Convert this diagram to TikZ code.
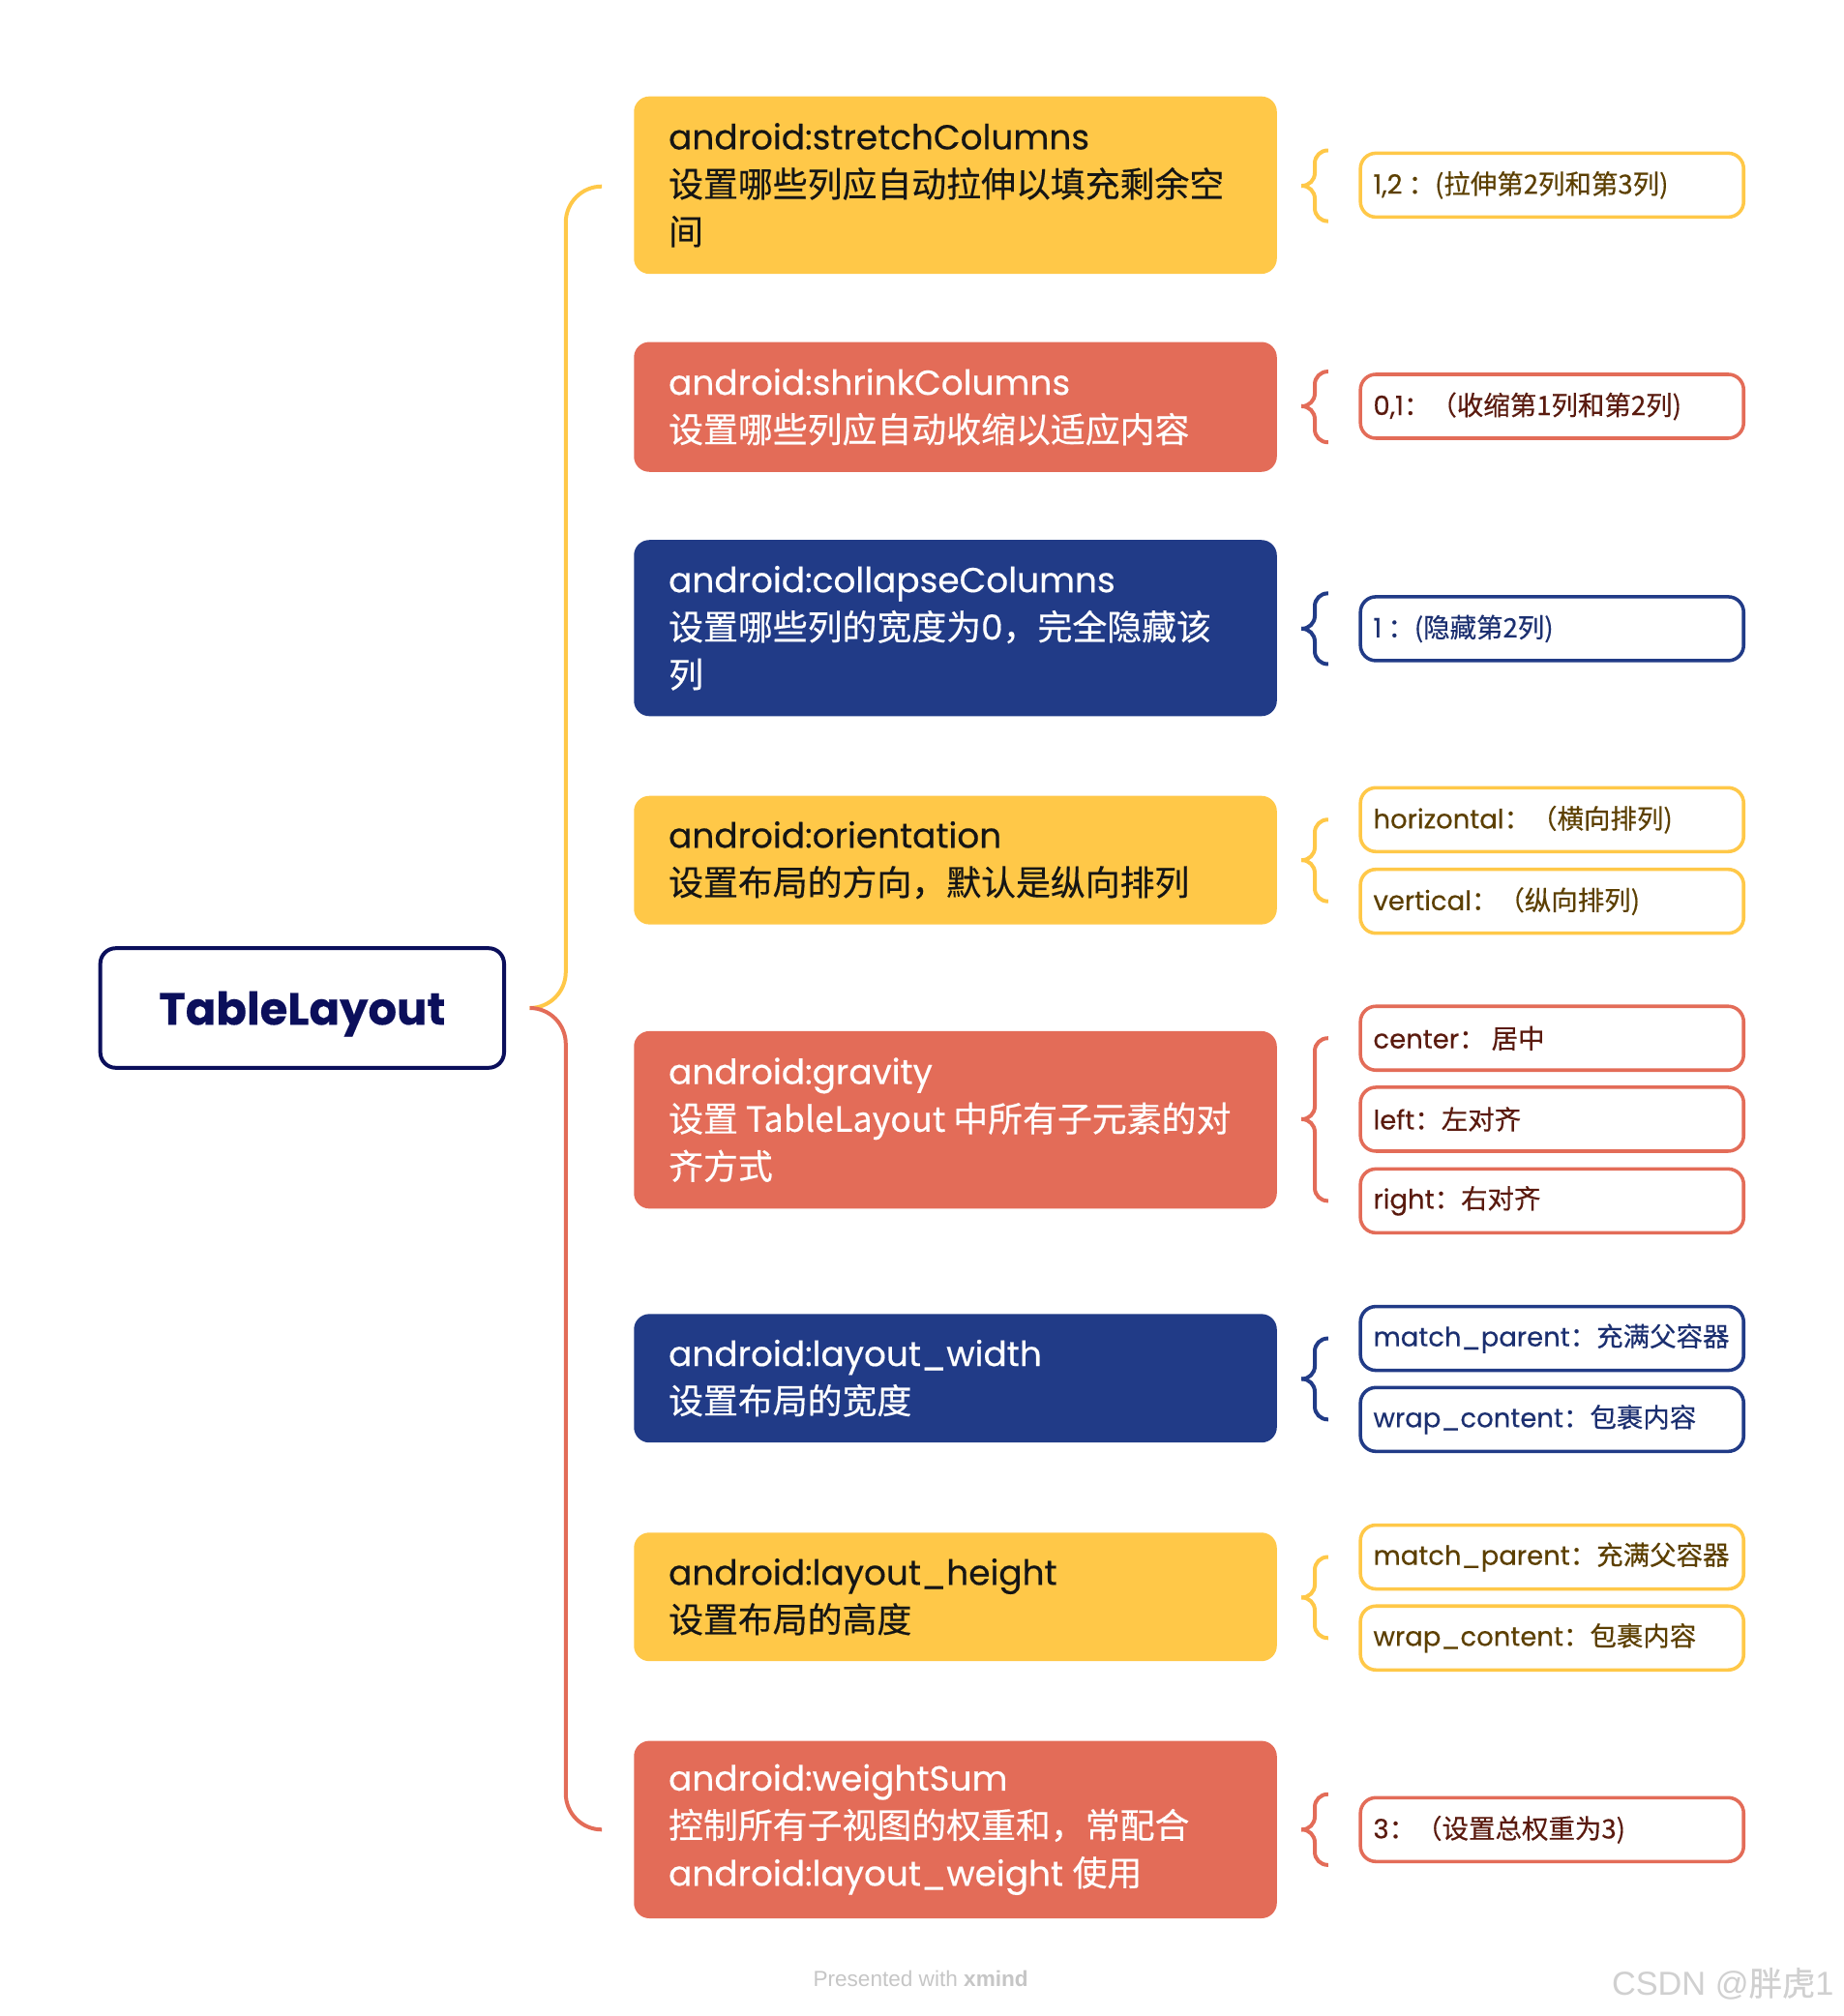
\documentclass[tikz,border=0pt]{standalone}
\usepackage{fontspec}
\setmainfont{Poppins}[FakeBold=0.35]
\newfontfamily\cjk{Noto Sans CJK SC}[FakeBold=0.4]
\newfontfamily\wmfont{Liberation Sans}
\definecolor{cy}{HTML}{FFC848}
\definecolor{cr}{HTML}{E36C58}
\definecolor{cn}{HTML}{213B87}
\definecolor{croot}{HTML}{0B0F5B}
\definecolor{ty}{HTML}{5C3F00}
\definecolor{tr}{HTML}{5A1A0E}
\definecolor{tn}{HTML}{1B2F70}
\definecolor{tk}{HTML}{151515}
\definecolor{footgray}{HTML}{C6C6C6}
\definecolor{wmgray}{HTML}{D0D0D0}
\tikzset{
  mbox/.style={draw=none, fill=#1, rounded corners=7.2pt, minimum width=300pt, inner sep=0pt},
  mtext/.style={anchor=west, align=left, inner sep=0pt, font=\fontsize{16.2}{22.2}\selectfont, text=#1},
  sbox/.style={draw=#1, line width=1.6pt, rounded corners=7.2pt, minimum width=178.8pt, minimum height=29.8pt, inner sep=0pt, fill=white},
  stext/.style={anchor=west, inner sep=0pt, font=\fontsize{12.4}{15}\selectfont, text=#1},
  brc/.style={draw=#1, line width=1.8pt, rounded corners=6pt},
  trunk/.style={draw=#1, line width=1.8pt, rounded corners=16.8pt},
  rootbox/.style={draw=croot, line width=1.8pt, rounded corners=7.2pt, minimum width=188.4pt, minimum height=55.8pt, inner sep=0pt, text=croot, text depth=0pt, font=\fontsize{21}{25}\selectfont\bfseries},
}
\newcommand\mybrace[4]{%
  \draw[brc=#1] (1033,#2) -- (1022.5,#2) -- (1022.5,#3) -- (1012,#3);
  \draw[brc=#1] (1012,#3) -- (1022.5,#3) -- (1022.5,#4) -- (1033,#4);
}
\begin{document}
\begin{tikzpicture}[x=0.6pt,y=-0.6pt]
\useasboundingbox[fill=white] (0,0) rectangle (1434,1568);

% root
\node[rootbox] (root) at (235,784) {TableLayout};

% trunk
\coordinate (j) at (412,784);
\coordinate (c1) at (440,784);
\coordinate (t1) at (468,145);
\coordinate (t8) at (468,1423);
\draw[trunk=cy] (t1) -| (c1) -- (j);
\draw[trunk=cr] (j) -- (c1) |- (t8);

% main boxes
\node[mbox=cy, minimum height=82.8pt] (b1) at (743,144) {};
\node[mtext=tk] (b1t) at ([xshift=16.2pt]b1.west) {android:stretchColumns\\{\cjk 设置哪些列应自动拉伸以填充剩余空}\\{\cjk 间}};

\node[mbox=cr, minimum height=60.6pt] (b2) at (743,316.5) {};
\node[mtext=white] (b2t) at ([xshift=16.2pt]b2.west) {android:shrinkColumns\\{\cjk 设置哪些列应自动收缩以适应内容}};

\node[mbox=cn, minimum height=82.2pt] (b3) at (743,488.5) {};
\node[mtext=white] (b3t) at ([xshift=16.2pt]b3.west) {android:collapseColumns\\{\cjk 设置哪些列的宽度为}0{\cjk ，完全隐藏该}\\{\cjk 列}};

\node[mbox=cy, minimum height=60pt] (b4) at (743,669) {};
\node[mtext=tk] (b4t) at ([xshift=16.2pt]b4.west) {android:orientation\\{\cjk 设置布局的方向，默认是纵向排列}};

\node[mbox=cr, minimum height=82.8pt] (b5) at (743,871) {};
\node[mtext=white] (b5t) at ([xshift=16.2pt]b5.west) {android:gravity\\\mbox{\cjk 设置 TableLayout 中所有子元素的对}\\{\cjk 齐方式}};

\node[mbox=cn, minimum height=60pt] (b6) at (743,1072) {};
\node[mtext=white] (b6t) at ([xshift=16.2pt]b6.west) {android:layout\_width\\{\cjk 设置布局的宽度}};

\node[mbox=cy, minimum height=60pt] (b7) at (743,1242) {};
\node[mtext=tk] (b7t) at ([xshift=16.2pt]b7.west) {android:layout\_height\\{\cjk 设置布局的高度}};

\node[mbox=cr, minimum height=82.8pt] (b8) at (743,1423) {};
\node[mtext=white] (b8t) at ([xshift=16.2pt]b8.west) {android:weightSum\\{\cjk 控制所有子视图的权重和，常配合}\\\mbox{android:layout\_weight {\cjk 使用}}};

% braces
\mybrace{cy}{117}{144.5}{172}
\mybrace{cr}{289}{316}{344}
\mybrace{cn}{461.5}{489}{516.5}
\mybrace{cy}{637.5}{669}{701}
\mybrace{cr}{807.5}{870.5}{934}
\mybrace{cn}{1041}{1072.5}{1104}
\mybrace{cy}{1211}{1242.5}{1274}
\mybrace{cr}{1395.5}{1423}{1450.5}

% sub boxes
\node[sbox=cy] (s1) at (1207,144) {};
\node[stext=ty] (s1t) at ([xshift=6.6pt]s1.west) {1,2{\cjk \ ：(拉伸第2列和第3列)}};
\node[sbox=cr] (s2) at (1207,316) {};
\node[stext=tr] (s2t) at ([xshift=6.6pt]s2.west) {0,1{\cjk ：（收缩第1列和第2列)}};
\node[sbox=cn] (s3) at (1207,489) {};
\node[stext=tn] (s3t) at ([xshift=6.6pt]s3.west) {1{\cjk \ ：(隐藏第2列)}};
\node[sbox=cy] (s4) at (1207,637.5) {};
\node[stext=ty] (s4t) at ([xshift=6.6pt]s4.west) {horizontal{\cjk ：（横向排列)}};
\node[sbox=cy] (s5) at (1207,701) {};
\node[stext=ty] (s5t) at ([xshift=6.6pt]s5.west) {vertical{\cjk ：（纵向排列)}};
\node[sbox=cr] (s6) at (1207,807.5) {};
\node[stext=tr] (s6t) at ([xshift=6.6pt]s6.west) {center{\cjk ： 居中}};
\node[sbox=cr] (s7) at (1207,870.5) {};
\node[stext=tr] (s7t) at ([xshift=6.6pt]s7.west) {left{\cjk ：左对齐}};
\node[sbox=cr] (s8) at (1207,934) {};
\node[stext=tr] (s8t) at ([xshift=6.6pt]s8.west) {right{\cjk ：右对齐}};
\node[sbox=cn] (s9) at (1207,1041) {};
\node[stext=tn] (s9t) at ([xshift=6.6pt]s9.west) {match\_parent{\cjk ：充满父容器}};
\node[sbox=cn] (s10) at (1207,1104) {};
\node[stext=tn] (s10t) at ([xshift=6.6pt]s10.west) {wrap\_content{\cjk ：包裹内容}};
\node[sbox=cy] (s11) at (1207,1211) {};
\node[stext=ty] (s11t) at ([xshift=6.6pt]s11.west) {match\_parent{\cjk ：充满父容器}};
\node[sbox=cy] (s12) at (1207,1274) {};
\node[stext=ty] (s12t) at ([xshift=6.6pt]s12.west) {wrap\_content{\cjk ：包裹内容}};
\node[sbox=cr] (s13) at (1207,1423) {};
\node[stext=tr] (s13t) at ([xshift=6.6pt]s13.west) {3{\cjk ：（设置总权重为3)}};

% footer
\node[font=\wmfont\fontsize{10.2}{12}\selectfont, text=footgray] (foot) at (716,1539) {Presented with \textbf{xmind}};
\node[anchor=east, font=\wmfont\fontsize{15.5}{18}\selectfont, text=wmgray] (wm) at (1432,1543) {CSDN @{\cjk 胖虎}1};
\end{tikzpicture}
\end{document}
